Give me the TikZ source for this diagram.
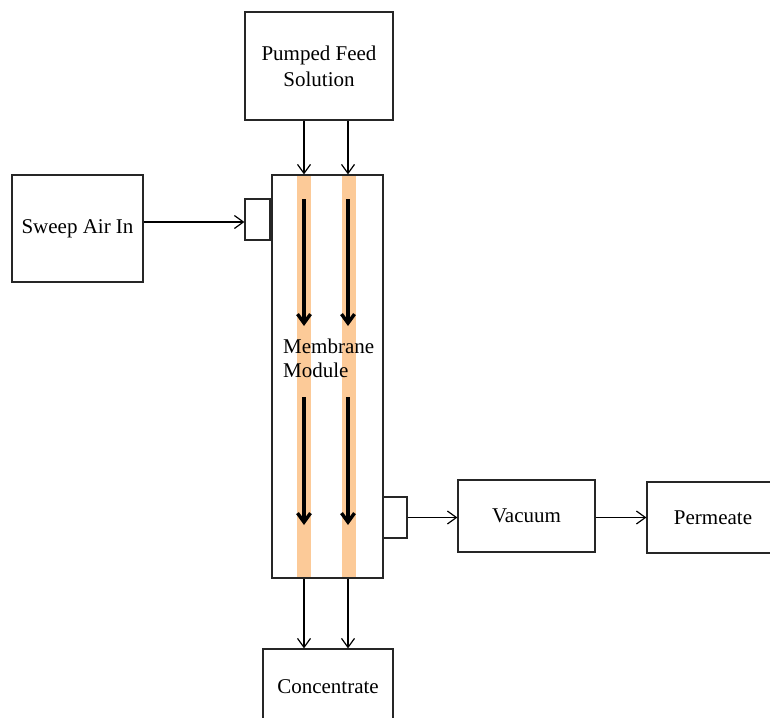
\documentclass[tikz,border=0pt]{standalone}
\usepackage{fontspec}
\setmainfont{Liberation Serif}
\usetikzlibrary{arrows.meta}
\definecolor{stripcol}{RGB}{252,202,152}
\tikzset{
  box/.style={draw=black!85, line width=1.2pt, rectangle, inner sep=0pt, align=center,
    font=\fontsize{21}{26}\selectfont},
  thin/.style={draw=black, line width=1.2pt, -{Straight Barb[length=9pt,width=13pt]}},
  flow/.style={draw=black, line width=3.4pt, -{Straight Barb[length=9pt,width=13pt]}},
  strip/.style={fill=stripcol, draw=none}
}
\begin{document}
\begin{tikzpicture}[x=1pt,y=-1pt]
\useasboundingbox (0,0) rectangle (770,717);
% strips
\fill[strip] (297,175) rectangle (311,578);
\fill[strip] (342,175) rectangle (356,578);
% nodes
\node[box, minimum width=148pt, minimum height=108pt] (feed) at (319,66) {Pumped Feed\\Solution};
\node[box, minimum width=131pt, minimum height=107pt] (sweep) at (77.5,228.5) {Sweep Air In};
\node[box, minimum width=111pt, minimum height=403pt] (module) at (327.5,376.5) {};
\node[box, minimum width=25pt, minimum height=41pt] (lport) at (257.5,219.5) {};
\node[box, minimum width=24pt, minimum height=41pt] (rport) at (395,517.5) {};
\node[box, minimum width=137pt, minimum height=72pt] (vacuum) at (526.5,516) {Vacuum};
\node[box, minimum width=132pt, minimum height=71pt] (permeate) at (713,517.5) {Permeate};
\node[box, minimum width=130pt, minimum height=76pt] (conc) at (328,687) {Concentrate};
\node[anchor=west, align=left, inner sep=0pt, font=\fontsize{21}{24}\selectfont] (label) at (283,358) {Membrane\\Module};
% column coordinates
\coordinate (c1) at (304,0);
\coordinate (c2) at (348,0);
\coordinate (a1s) at (304,199);
\coordinate (a1e) at (304,326);
\coordinate (a2s) at (304,397);
\coordinate (a2e) at (304,525);
\coordinate (b1s) at (348,199);
\coordinate (b1e) at (348,326);
\coordinate (b2s) at (348,397);
\coordinate (b2e) at (348,525);
% feed arrows
\draw[thin] (feed.south -| c1) -- (module.north -| c1);
\draw[thin] (feed.south -| c2) -- (module.north -| c2);
% flow arrows
\draw[flow] (a1s) -- (a1e);
\draw[flow] (a2s) -- (a2e);
\draw[flow] (b1s) -- (b1e);
\draw[flow] (b2s) -- (b2e);
% concentrate arrows
\draw[thin] (module.south -| c1) -- (conc.north -| c1);
\draw[thin] (module.south -| c2) -- (conc.north -| c2);
% side arrows
\draw[thin] (sweep.east |- 0,222) -- (lport.west |- 0,222);
\draw[thin] (rport.east) -- (vacuum.west |- rport.east);
\draw[thin] (vacuum.east |- 0,517.5) -- (permeate.west |- 0,517.5);
\end{tikzpicture}
\end{document}
